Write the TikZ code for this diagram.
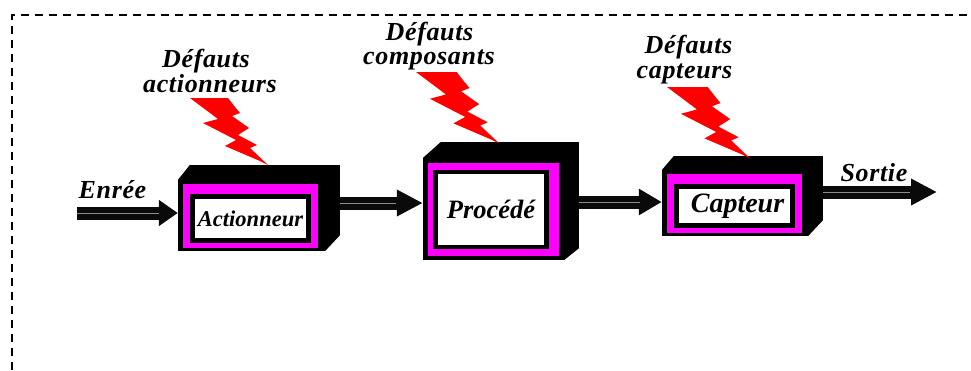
\documentclass[tikz,border=0pt]{standalone}
\usepackage{fontspec}
\setmainfont{Liberation Serif}
\newfontfamily\lblfont[LetterSpace=2.5,BoldItalicFont={Liberation Serif Bold Italic}]{Liberation Serif}
\usetikzlibrary{arrows.meta}
\definecolor{mag}{RGB}{255,0,255}
\tikzset{
  x=1pt,y=-1pt,
  lbl/.style={font=\fontsize{26}{25}\lblfont\bfseries\itshape,text=black,inner sep=0pt,align=center},
  outerblk/.style={rectangle,fill=black,inner sep=0pt},
  band/.style={rectangle,inner sep=0pt,fill=#1},
  shaft/.style={line width=13pt,draw=black!96,-{Triangle[length=#1,width=25pt]}},
  core/.style={line width=0.9pt,draw=black!45},
  bolt/.pic={\fill[red] (0,0)--(38,0)--(45,9)--(50,15)--(42,18)--(59,30)--(48,37)--(67,47)--(60,50)--(78,67)--(70,63)--(35,48)--(46,42)--(13,25)--(28,21)--cycle;}
}
\begin{document}
\begin{tikzpicture}
\useasboundingbox (0,0) rectangle (971,370);
\fill[white] (0,0) rectangle (971,370);
% dashed frame
\draw[black,line width=1.2pt,dash pattern=on 8pt off 6pt] (12,370) -- (12,15) -- (971,15);

% block 1
\node[outerblk,minimum width=162pt,minimum height=86pt] (a1) at (259,208) {};
\fill[white] (a1.north west) -- ++(12,0) -- ++(-12,15) -- cycle;
\fill[white] (a1.south east) -- ++(-15,0) -- ++(15,-16) -- cycle;
\node[band=mag,minimum width=135pt,minimum height=64pt] (a1m) at (250.5,216) {};
\node[band=black,minimum width=121pt,minimum height=49pt] (a1k) at (250.5,218.5) {};
\node[band=white,minimum width=111pt,minimum height=39pt,font=\fontsize{22.5}{24}\selectfont\bfseries\itshape] (a1w) at (250.5,218.5) {Actionneur};

% block 2
\node[outerblk,minimum width=156pt,minimum height=118pt] (a2) at (501,201) {};
\fill[white] (a2.north west) -- ++(18,0) -- ++(-18,16) -- cycle;
\fill[white] (a2.south east) -- ++(-15,0) -- ++(15,-12) -- cycle;
\node[band=mag,minimum width=131pt,minimum height=93pt] (a2m) at (493.5,209.5) {};
\node[band=black,minimum width=116pt,minimum height=79pt] (a2k) at (491,209.5) {};
\node[band=white,minimum width=106pt,minimum height=71pt,font=\fontsize{26.5}{28}\selectfont\bfseries\itshape] (a2w) at (491,209.5) {Procédé};

% block 3
\node[outerblk,minimum width=161pt,minimum height=80pt] (a3) at (742.5,196) {};
\fill[white] (a3.north west) -- ++(12,0) -- ++(-12,14) -- cycle;
\fill[white] (a3.south east) -- ++(-15,0) -- ++(15,-16) -- cycle;
\node[band=mag,minimum width=135pt,minimum height=59pt] (a3m) at (734.5,203.5) {};
\node[band=black,minimum width=121pt,minimum height=44pt] (a3k) at (734.5,206) {};
\node[band=white,minimum width=111pt,minimum height=34pt,font=\fontsize{28}{28}\selectfont\bfseries\itshape] (a3w) at (734.5,206) {\hspace*{6pt}\raisebox{2pt}{Capteur}};

% connectors
\coordinate (inp) at (77,213);
\coordinate (outp) at (937,192);
\draw[shaft=19pt] (inp) -- (a1.west |- inp);
\draw[shaft=26pt] (a1.east |- 0,203) -- (a2.west |- 0,203);
\draw[shaft=23pt] (a2.east |- 0,202) -- (a3.west |- 0,202);
\draw[shaft=26pt] (a3.east |- outp) -- (outp);
\draw[core] (inp) -- (159,213);
\draw[core] (a1.east |- 0,203) -- (396,203);
\draw[core] (a2.east |- 0,202) -- (640,202);
\draw[core] (a3.east |- outp) -- (910,192);

% bolts
\pic at (190,98) {bolt};
\pic[scale=1.07] at (416,72) {bolt};
\pic[scale=1.07] at (667,87) {bolt};

% labels
\node[lbl] (l1) at (210,71) {Défauts\hspace*{8pt}\\actionneurs};
\node[lbl] (l2a) at (429.5,34.5) {Défauts};
\node[lbl] (l2b) at (429,60) {composants};
\node[lbl] (l3) at (688.5,60) {Défauts\\capteurs\hspace*{8pt}};
\node[lbl] (l4) at (112.5,190) {Enrée};
\node[lbl] (l5) at (874,173) {Sortie};
\end{tikzpicture}
\end{document}
